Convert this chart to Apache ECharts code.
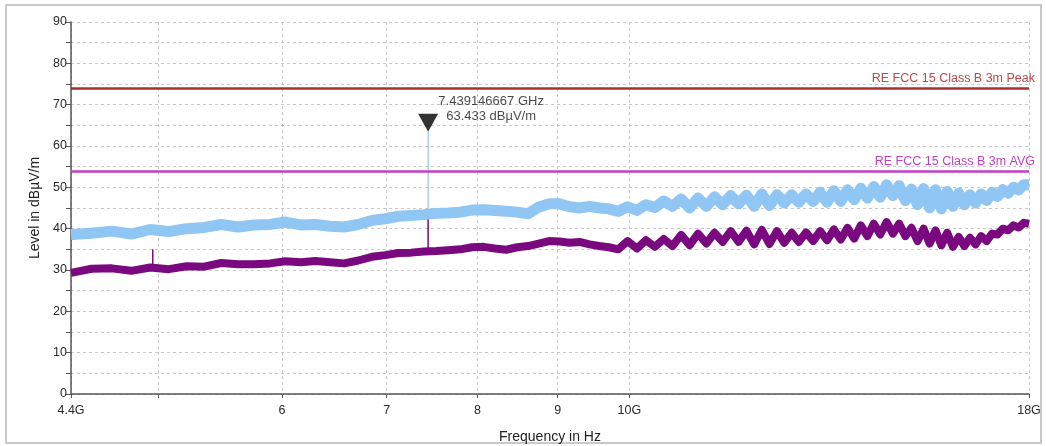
<!DOCTYPE html>
<html>
<head>
<meta charset="utf-8">
<script src="https://cdn.jsdelivr.net/npm/echarts@6/dist/echarts.min.js"></script>
<style>
  html, body { margin: 0; padding: 0; background: #fff; }
  #main { width: 1046px; height: 446px; }
</style>
</head>
<body>
<div id="main"></div>
<script>
// sweep grid, GHz
var sweepStart = 4.4;
var sweepStep = 0.136;

// max peak trace (light blue), dBµV/m, one value per sweep point
var peakTrace = [
  38.6, 38.9, 39.4, 38.7, 39.8, 39.3, 40.0, 40.3, 41.0, 40.4,
  40.9, 41.0, 41.6, 40.9, 41.0, 40.6, 40.4, 41.0, 42.0, 42.4,
  43.0, 43.2, 43.4, 43.7, 43.8, 44.0, 44.5, 44.6, 44.4, 44.2,
  44.0, 43.6, 45.2, 46.0, 46.0, 45.3, 45.0, 45.4, 45.0, 44.8,
  44.2, 45.3, 44.4, 45.8, 45.1, 46.7, 45.4, 47.2, 45.0, 47.4,
  45.4, 47.7, 45.8, 48.0, 46.0, 48.1, 45.4, 48.4, 45.6, 48.2,
  46.2, 48.2, 46.4, 48.4, 46.6, 48.8, 46.4, 49.2, 46.6, 49.4,
  47.0, 49.8, 47.4, 50.2, 47.6, 50.6, 48.0, 50.4, 46.8, 49.6,
  45.8, 49.7, 45.0, 49.4, 44.8, 49.0, 45.4, 48.6, 45.8, 48.2,
  46.2, 48.4, 46.8, 48.8, 47.8, 49.4, 48.6, 50.0, 49.4, 50.6,
  50.6
];

// average trace (purple), dBµV/m
var avgTrace = [
  29.3, 30.3, 30.4, 29.8, 30.6, 30.2, 30.9, 30.8, 31.7, 31.4,
  31.4, 31.6, 32.1, 31.9, 32.2, 31.9, 31.6, 32.3, 33.2, 33.6,
  34.1, 34.2, 34.5, 34.6, 34.8, 35.0, 35.5, 35.6, 35.2, 34.9,
  35.5, 35.8, 36.4, 37.0, 36.9, 36.6, 36.8, 36.2, 35.8, 35.5,
  35.0, 37.0, 35.2, 37.2, 35.6, 37.5, 35.8, 38.5, 36.0, 38.8,
  36.4, 39.0, 36.8, 39.4, 36.8, 39.5, 36.2, 39.7, 36.3, 39.4,
  36.6, 39.0, 36.8, 39.1, 37.0, 39.4, 37.2, 39.8, 37.4, 40.2,
  37.6, 40.8, 38.2, 41.2, 38.6, 41.6, 38.8, 41.2, 38.2, 40.2,
  37.0, 40.0, 36.4, 39.6, 36.0, 39.0, 35.6, 38.0, 35.8, 37.8,
  36.2, 38.2, 37.0, 38.8, 38.6, 40.0, 39.6, 40.8, 40.3, 41.4,
  41.2
];

// narrow spikes on the average trace: [GHz, from, to]
var avgSpikes = [[4.962, 30.6, 35.0], [7.439146667, 34.5, 42.2]];

// marker
var markerFreq = 7.439146667;
var markerLevel = 63.433;
var markerBase = 44.0;

// limit lines
var limitPeak = 74;
var limitAvg = 54;
var limitPeakName = 'RE FCC 15 Class B 3m Peak';
var limitAvgName = 'RE FCC 15 Class B 3m AVG';

// axis ticks
var xTicks = [4.4, 5, 6, 7, 8, 9, 10, 18];
var xLabels = [4.4, 6, 7, 8, 9, 10, 18];
var xLabelText = { '4.4': '4.4G', '10': '10G', '18': '18G' };

window.onload = function () {
  var myChart = echarts.init(document.getElementById('main'));

  var freq = peakTrace.map(function (v, i) {
    return +(sweepStart + sweepStep * i).toFixed(3);
  });
  var peakData = peakTrace.map(function (v, i) { return [freq[i], v]; });
  var avgData = avgTrace.map(function (v, i) { return [freq[i], v]; });

  var font = 'Liberation Sans, Arial, sans-serif';

  var series = [
    {
      name: 'peak',
      type: 'line',
      data: peakData,
      showSymbol: false,
      lineStyle: { color: '#8fc6f3', width: 11, join: 'round' },
      z: 2
    },
    {
      name: 'avg',
      type: 'line',
      data: avgData,
      showSymbol: false,
      lineStyle: { color: '#7a087e', width: 8, join: 'round' },
      z: 3
    },
    {
      name: 'marker spike',
      type: 'line',
      data: [[markerFreq, markerBase], [markerFreq, markerLevel]],
      showSymbol: false,
      lineStyle: { color: '#8fc6f3', width: 1.2 },
      z: 2
    },
    {
      name: 'limits',
      type: 'line',
      data: [],
      markLine: {
        silent: true,
        symbol: 'none',
        animation: false,
        data: [
          {
            yAxis: limitPeak,
            lineStyle: { color: '#a8302f', width: 2.5, type: 'solid' },
            label: { formatter: limitPeakName, color: '#c04848' }
          },
          {
            yAxis: limitAvg,
            lineStyle: { color: '#c23ec4', width: 2.5, type: 'solid' },
            label: { formatter: limitAvgName, color: '#c23ec4' }
          }
        ],
        label: {
          show: true,
          position: 'insideEndTop',
          distance: [-6, 3],
          fontSize: 12.5,
          fontFamily: font
        }
      }
    },
    {
      name: 'marker',
      type: 'scatter',
      data: [[markerFreq, markerLevel]],
      symbol: 'path://M0,0 L20,0 L10,18 Z',
      symbolSize: [20, 18],
      symbolOffset: [0, -9],
      itemStyle: { color: '#000' },
      label: {
        show: true,
        position: 'top',
        offset: [63, 15],
        align: 'center',
        lineHeight: 15,
        fontSize: 13,
        fontFamily: font,
        color: '#1a1a1a',
        formatter: markerFreq.toFixed(9) + ' GHz\n' + markerLevel.toFixed(3) + ' dBµV/m'
      },
      z: 5
    }
  ];

  avgSpikes.forEach(function (s) {
    series.push({
      name: 'avg spike',
      type: 'line',
      data: [[s[0], s[1]], [s[0], s[2]]],
      showSymbol: false,
      lineStyle: { color: '#7a087e', width: 1.5 },
      z: 3
    });
  });

  var option = {
    animation: false,
    backgroundColor: '#fff',
    graphic: [{
      type: 'rect',
      shape: { x: 6, y: 5, width: 1035, height: 438 },
      style: { fill: 'none', stroke: '#b8b8b8', lineWidth: 1.5 },
      silent: true
    }],
    grid: { left: 71, right: 17, top: 22, bottom: 52, outerBoundsMode: 'none' },
    xAxis: {
      type: 'log',
      min: 4.4,
      max: 18,
      name: 'Frequency in Hz',
      nameLocation: 'middle',
      nameGap: 36,
      nameTextStyle: { color: '#222', fontSize: 14, fontFamily: font },
      axisLine: { show: true, lineStyle: { color: '#555', width: 1.5 } },
      axisTick: { show: true, customValues: xTicks, length: 4, inside: false, lineStyle: { color: '#555' } },
      axisLabel: {
        customValues: xLabels,
        color: '#2a2a2a',
        fontSize: 12.5,
        fontFamily: font,
        margin: 10,
        formatter: function (v) {
          var key = String(Math.round(v * 10) / 10);
          return xLabelText[key] || key;
        }
      },
      splitLine: { show: true, lineStyle: { color: '#c8c8c8', type: [3, 3], width: 1 } },
      minorTick: { show: false },
      minorSplitLine: { show: false }
    },
    yAxis: {
      type: 'value',
      min: 0,
      max: 90,
      interval: 5,
      name: 'Level in dBµV/m',
      nameLocation: 'middle',
      nameGap: 28,
      nameTextStyle: { color: '#222', fontSize: 14, fontFamily: font },
      axisLine: { show: true, lineStyle: { color: '#555', width: 1.5 } },
      axisTick: { show: true, length: 5, lineStyle: { color: '#555' } },
      axisLabel: {
        color: '#2a2a2a',
        fontSize: 12.5,
        fontFamily: font,
        margin: 4,
        formatter: function (v) { return v % 10 === 0 ? String(v) : ''; }
      },
      splitLine: { show: true, lineStyle: { color: '#c8c8c8', type: [3, 3], width: 1 } }
    },
    series: series
  };

  myChart.setOption(option);
};
</script>
</body>
</html>
